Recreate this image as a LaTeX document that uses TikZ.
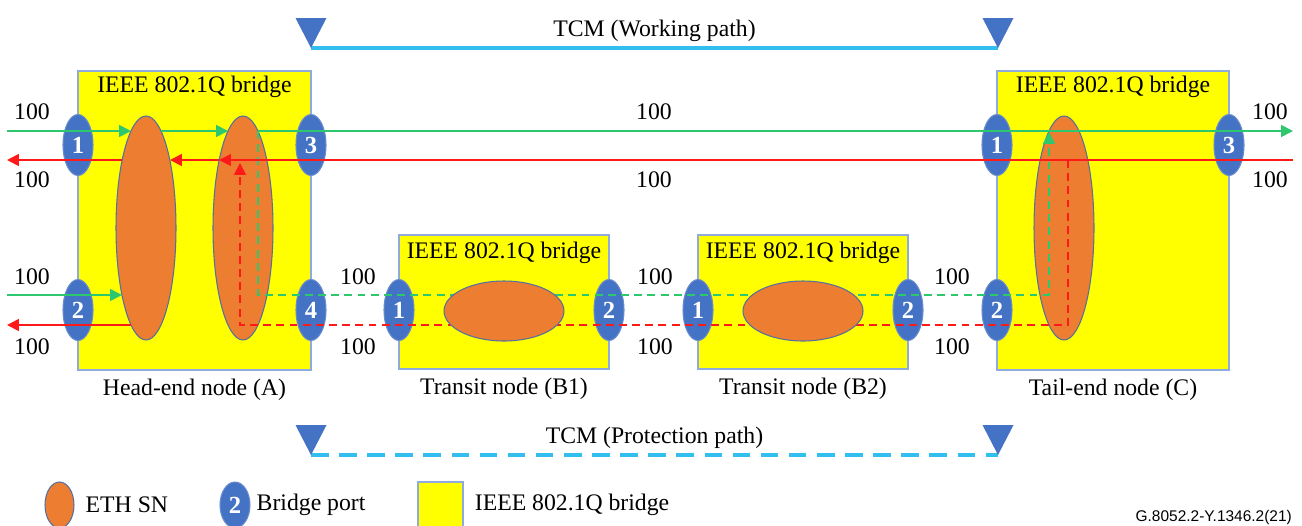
\documentclass[tikz,border=0pt]{standalone}
\usepackage{fontspec}
\setmainfont{Liberation Serif}
\newfontfamily\footfont{Liberation Sans}
\usetikzlibrary{shapes.geometric,arrows.meta,positioning,calc}

\definecolor{bridgeyellow}{RGB}{255,255,0}
\definecolor{bridgeedge}{RGB}{143,170,220}
\definecolor{portblue}{RGB}{68,114,196}
\definecolor{portedge}{RGB}{105,140,205}
\definecolor{snorange}{RGB}{237,125,49}
\definecolor{snedge}{RGB}{84,112,160}
\definecolor{flowgreen}{RGB}{45,200,110}
\definecolor{flowred}{RGB}{255,25,25}
\definecolor{tcmblue}{RGB}{51,190,240}

\begin{document}
\begin{tikzpicture}[
    x=0.02cm, y=-0.02cm,
    bridge/.style={rectangle, draw=bridgeedge, fill=bridgeyellow, line width=0.8pt, inner sep=0pt},
    port/.style={ellipse, draw=portedge, fill=portblue, line width=0.6pt, inner sep=0pt, minimum width=0.6cm, minimum height=1.22cm, text=white, font={\fontsize{14}{16}\selectfont\bfseries}},
    sn/.style={ellipse, draw=snedge, fill=snorange, line width=0.6pt, inner sep=0pt},
    tallsn/.style={sn, minimum width=1.2cm, minimum height=4.48cm},
    flatsn/.style={sn, minimum width=2.4cm, minimum height=1.2cm},
    flow/.style={line width=1pt, -{Triangle[length=6.8pt,width=6.8pt]}},
    wgreen/.style={flow, draw=flowgreen},
    pgreen/.style={wgreen, dash pattern=on 4.5pt off 3pt},
    wred/.style={flow, draw=flowred},
    pred/.style={wred, dash pattern=on 4.5pt off 3pt},
    tcm/.style={draw=tcmblue, line width=2pt},
    tcmmark/.style={fill=portblue}
]

  \tikzset{
    font={\fontsize{13.5}{16}\selectfont}
  }
\useasboundingbox (0,0) rectangle (1302,525);

% Nodes
\node[bridge, minimum width=4.66cm, minimum height=5.98cm] (boxA) at (194.5,220.5) {};
\node[bridge, minimum width=4.2cm, minimum height=2.68cm] (boxB1) at (504,302) {};
\node[bridge, minimum width=4.2cm, minimum height=2.68cm] (boxB2) at (803,302) {};
\node[bridge, minimum width=4.64cm, minimum height=5.98cm] (boxC) at (1113,220.5) {};

\node[below=0pt of boxA.north] (titleA) {IEEE 802.1Q bridge};
\node[below=1pt of boxB1.north] (titleB1) {IEEE 802.1Q bridge};
\node[below=1pt of boxB2.north] (titleB2) {IEEE 802.1Q bridge};
\node[below=0pt of boxC.north] (titleC) {IEEE 802.1Q bridge};

\node[below=0.05cm of boxA] (capA) {Head-end node (A)};
\node[below=0.05cm of boxB1] (capB1) {Transit node (B1)};
\node[below=0.05cm of boxB2] (capB2) {Transit node (B2)};
\node[below=0.05cm of boxC] (capC) {Tail-end node (C)};

\node[port] (pA1) at (78,145) {1};
\node[port] (pA2) at (78,310) {2};
\node[port] (pA3) at (311,145) {3};
\node[port] (pA4) at (311,310) {4};
\node[port] (pB11) at (399,310) {1};
\node[port] (pB12) at (609,310) {2};
\node[port] (pB21) at (698,310) {1};
\node[port] (pB22) at (908,310) {2};
\node[port] (pC1) at (997,145) {1};
\node[port] (pC2) at (997,310) {2};
\node[port] (pC3) at (1229,145) {3};

\node[tallsn] (snA1) at (146,228) {};
\node[tallsn] (snA2) at (243,228) {};
\node[tallsn] (snC) at (1064,228) {};

\coordinate (inA1) at (7,131);
\coordinate (outA1) at (7,160);
\coordinate (inA2) at (7,295);
\coordinate (outA2) at (7,325);
\coordinate (outC3) at (1293,131);
\coordinate (inC3) at (1293,160);

% Lines
\draw[wgreen] (inA1) -- ($(snA1)+(-15,-97)$);
\draw[wgreen] ($(snA1)+(15,-97)$) -- ($(snA2)+(-15,-97)$);
\draw[wgreen] ($(snA2)+(15,-97)$) -- (outC3);
\draw[wgreen] (inA2) -- ($(snA1)+(-24,67)$);
\draw[pgreen] ($(snA2)+(15,-97)$) -- ($(snA2)+(15,67)$) -- ($(snC)+(-15,67)$) -- ($(snC)+(-15,-96)$);

\draw[wred] (inC3) -- ($(snA2)+(-24,-68)$);
\draw[wred] ($(snA2)+(-24,-68)$) -- ($(snA1)+(24,-68)$);
\draw[wred] ($(snA1)+(-24,-68)$) -- (outA1);
\draw[wred] ($(snA1)+(-15,97)$) -- (outA2);
\draw[pred] ($(snC)+(4,-68)$) -- ($(snC)+(4,97)$) -- ($(snA2)+(-3,97)$) -- ($(snA2)+(-3,-65)$);

\node[flatsn] (snB1) at (504,311) {};
\node[flatsn] (snB2) at (803,311) {};

% Rates
\foreach \x/\y [count=\i] in {32/112, 32/180, 32/277, 32/347, 654/112, 654/180, 1270/112, 1270/180,
    358/277, 358/347, 655/277, 655/347, 952/277, 952/347}
  \node (rate\i) at (\x,\y) {100};

% TCM
\coordinate (wl) at (311,48);
\coordinate (wr) at (998,48);
\coordinate (pl) at (311,455);
\coordinate (pr) at (998,455);
\draw[tcm] (wl) -- node[above=-0.5pt] (tcmW) {TCM (Working path)} (wr);
\draw[tcm, dash pattern=on 10pt off 6pt] (pl) -- node[above=-0.5pt] (tcmP) {TCM (Protection path)} (pr);
\foreach \c in {wl,wr,pl,pr}
  \fill[tcmmark] (\c) -- ++(-15.5,-30) -- ++(31,0) -- cycle;

% Legend
\node[sn, minimum width=0.58cm, minimum height=0.92cm] (keySN) at (59.5,505) {};
\node[right=0.1cm of keySN.east] (keySNtext) {ETH SN};
\node[port, minimum height=0.92cm] (keyPort) at (235,505) {2};
\node[right=0.0cm of keyPort.east] (keyPorttext) {Bridge port};
\node[bridge, minimum width=0.9cm, minimum height=0.9cm] (keyBridge) at (440.5,504.5) {};
\node[right=0.1cm of keyBridge.east] (keyBridgetext) {IEEE 802.1Q bridge};

\node[anchor=east, font={\footfont\fontsize{8.8}{10}\selectfont}] (figid) at (1298,517) {G.8052.2-Y.1346.2(21)};

\end{tikzpicture}
\end{document}
